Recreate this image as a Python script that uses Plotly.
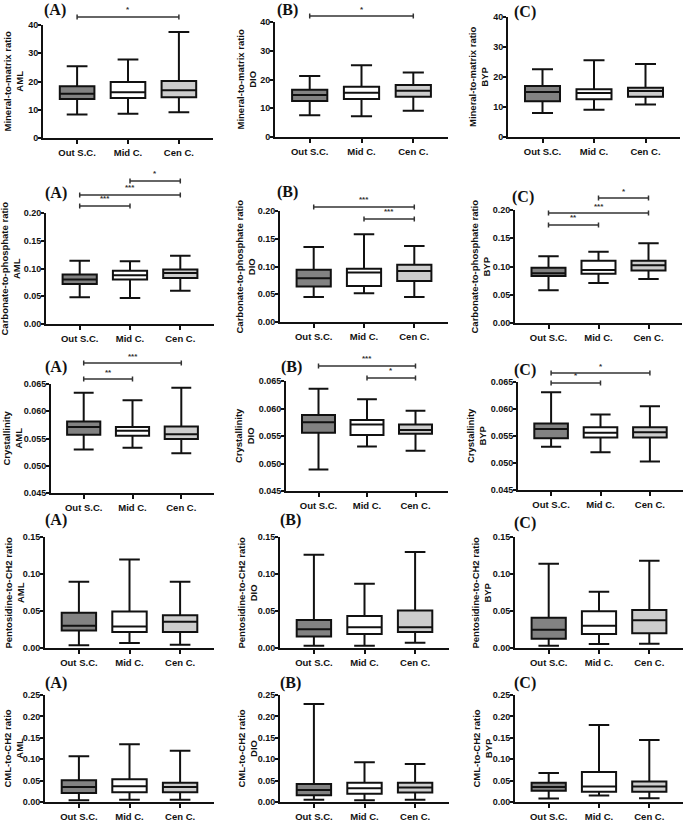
import plotly.graph_objects as go

# ---------------- data ----------------
categories = ["Out S.C.", "Mid C.", "Cen C."]
sites = ["AML", "DIO", "BYP"]
panel_letters = ["(A)", "(B)", "(C)"]
measures = ["Mineral-to-matrix ratio", "Carbonate-to-phosphate ratio",
            "Crystallinity", "Pentosidine-to-CH2 ratio", "CML-to-CH2 ratio"]

# each entry: [lower whisker, Q1, median, Q3, upper whisker] for Out S.C., Mid C., Cen C.
mineral_aml = [[8.3, 13.8, 15.7, 18.3, 25.4], [8.6, 14.2, 16.2, 19.8, 27.8], [9.1, 14.4, 16.9, 20.2, 37.5]]
mineral_dio = [[7.6, 12.5, 14.6, 16.4, 21.2], [7.2, 13.2, 15.4, 17.5, 25.0], [9.1, 14.0, 16.1, 18.1, 22.4]]
mineral_byp = [[8.0, 11.9, 15.0, 17.0, 22.6], [9.1, 12.6, 14.7, 15.9, 25.6], [10.8, 13.4, 15.3, 16.4, 24.3]]

carbonate_aml = [[0.048, 0.072, 0.080, 0.089, 0.114], [0.047, 0.080, 0.088, 0.096, 0.113], [0.060, 0.083, 0.092, 0.098, 0.123]]
carbonate_dio = [[0.045, 0.064, 0.079, 0.094, 0.135], [0.052, 0.065, 0.089, 0.096, 0.158], [0.045, 0.074, 0.092, 0.103, 0.137]]
carbonate_byp = [[0.058, 0.083, 0.088, 0.098, 0.118], [0.071, 0.087, 0.094, 0.110, 0.126], [0.078, 0.093, 0.102, 0.110, 0.141]]

crystal_aml = [[0.0530, 0.0557, 0.0571, 0.0581, 0.0634], [0.0533, 0.0555, 0.0564, 0.0571, 0.0620], [0.0523, 0.0549, 0.0558, 0.0572, 0.0643]]
crystal_dio = [[0.0489, 0.0556, 0.0575, 0.0588, 0.0636], [0.0531, 0.0552, 0.0571, 0.0579, 0.0617], [0.0523, 0.0554, 0.0561, 0.0571, 0.0596]]
crystal_byp = [[0.0530, 0.0546, 0.0563, 0.0573, 0.0631], [0.0520, 0.0547, 0.0556, 0.0566, 0.0590], [0.0503, 0.0547, 0.0557, 0.0566, 0.0605]]

pentos_aml = [[0.0036, 0.0237, 0.030, 0.0475, 0.0896], [0.0067, 0.0215, 0.029, 0.0493, 0.1196], [0.0045, 0.0215, 0.0354, 0.0443, 0.0896]]
pentos_dio = [[0.003, 0.0157, 0.0255, 0.038, 0.126], [0.003, 0.0188, 0.028, 0.0434, 0.0869], [0.0072, 0.0215, 0.028, 0.0506, 0.1298]]
pentos_byp = [[0.003, 0.0125, 0.0246, 0.041, 0.114], [0.0054, 0.0188, 0.030, 0.0497, 0.076], [0.0058, 0.020, 0.0376, 0.0515, 0.118]]

cml_aml = [[0.004, 0.021, 0.035, 0.051, 0.107], [0.005, 0.023, 0.037, 0.053, 0.135], [0.005, 0.023, 0.035, 0.045, 0.120]]
cml_dio = [[0.005, 0.016, 0.028, 0.042, 0.229], [0.004, 0.019, 0.032, 0.045, 0.093], [0.005, 0.022, 0.034, 0.045, 0.089]]
cml_byp = [[0.008, 0.026, 0.035, 0.045, 0.068], [0.015, 0.024, 0.036, 0.070, 0.180], [0.009, 0.024, 0.036, 0.048, 0.145]]

panel_data = [
    [mineral_aml, mineral_dio, mineral_byp],
    [carbonate_aml, carbonate_dio, carbonate_byp],
    [crystal_aml, crystal_dio, crystal_byp],
    [pentos_aml, pentos_dio, pentos_byp],
    [cml_aml, cml_dio, cml_byp],
]

# y-axis ticks per row
row_tickvals = [
    [0, 10, 20, 30, 40],
    [0.00, 0.05, 0.10, 0.15, 0.20],
    [0.045, 0.050, 0.055, 0.060, 0.065],
    [0.00, 0.05, 0.10, 0.15],
    [0.00, 0.05, 0.10, 0.15, 0.20, 0.25],
]
row_ticktext = [
    ["0", "10", "20", "30", "40"],
    ["0.00", "0.05", "0.10", "0.15", "0.20"],
    ["0.045", "0.050", "0.055", "0.060", "0.065"],
    ["0.00", "0.05", "0.10", "0.15"],
    ["0.00", "0.05", "0.10", "0.15", "0.20", "0.25"],
]

# significance comparisons per panel (row, col): (group i, group j, stars)
significance = {
    (0, 0): [(0, 2, "*")],
    (0, 1): [(0, 2, "*")],
    (1, 0): [(1, 2, "*"), (0, 2, "***"), (0, 1, "***")],
    (1, 1): [(0, 2, "***"), (1, 2, "***")],
    (1, 2): [(1, 2, "*"), (0, 2, "***"), (0, 1, "**")],
    (2, 0): [(0, 2, "***"), (0, 1, "**")],
    (2, 1): [(0, 2, "***"), (1, 2, "*")],
    (2, 2): [(0, 2, "*"), (0, 1, "*")],
}

# ---------------- layout / style ----------------
W, H = 685, 823
fill_colors = ["#828282", "#ffffff", "#cdcdcd"]
LINE = "#111111"
SANS = "Liberation Sans, Arial, sans-serif"
SERIF = "Liberation Serif, Times New Roman, serif"

# plot-area pixel boxes (x0, x1, ytop, ybottom)
panel_px = [
    [(43, 213, 25, 138), (275, 448, 22, 137), (508, 680, 17, 137)],
    [(46, 214, 213, 324), (280, 448, 211, 322), (515, 682, 210, 323)],
    [(51, 214, 384, 493), (286, 448, 381, 491), (518, 683, 382, 490)],
    [(45, 214, 537, 648), (280, 449, 537, 648), (515, 683, 537, 648)],
    [(45, 214, 695, 802), (280, 449, 695, 802), (515, 683, 695, 802)],
]
# y-title block centre x (px)
ytitle_px = [
    [13, 246, 479],
    [10, 245, 480],
    [12, 245, 477],
    [14, 247, 481],
    [13, 247, 482],
]
# panel label positions (left x, center y) in px
label_px = [
    [(42, 10), (275, 10), (512, 12)],
    [(43, 193), (275, 192), (510, 197)],
    [(43, 367), (279, 367), (512, 370)],
    [(43, 520), (278, 520), (512, 523)],
    [(43, 683), (278, 683), (512, 683)],
]
# bracket heights (px) matching significance order
bracket_px = {
    (0, 0): [17], (0, 1): [16],
    (1, 0): [181, 195, 206], (1, 1): [207, 219], (1, 2): [198, 213, 225],
    (2, 0): [363, 379], (2, 1): [366, 378], (2, 2): [373, 383],
}


def xp(px):
    return px / W


def yp(py):
    return 1 - py / H


fig = go.Figure()
layout = dict(
    width=W, height=H, margin=dict(l=0, r=0, t=0, b=0, autoexpand=False),
    paper_bgcolor="white", plot_bgcolor="white", showlegend=False,
    boxmode="overlay",
)
shapes = []
annotations = []

for r in range(5):
    for c in range(3):
        n = r * 3 + c + 1
        xa = "x" if n == 1 else f"x{n}"
        ya = "y" if n == 1 else f"y{n}"
        x0, x1, yt, yb = panel_px[r][c]
        stats = panel_data[r][c]
        for g in range(3):
            lo, q1, med, q3, hi = stats[g]
            fig.add_trace(go.Box(
                x=[categories[g]], q1=[q1], median=[med], q3=[q3],
                lowerfence=[lo], upperfence=[hi],
                xaxis=xa, yaxis=ya, width=0.68, whiskerwidth=0.6,
                fillcolor=fill_colors[g], line=dict(color=LINE, width=2),
                boxpoints=False, hoverinfo="skip", showlegend=False,
            ))
        tv = row_tickvals[r]
        layout["xaxis" if n == 1 else f"xaxis{n}"] = dict(
            domain=[xp(x0), xp(x1)], anchor=ya, type="category",
            categoryorder="array", categoryarray=categories, automargin=False,
            range=[-0.67, 2.67], showline=True, linecolor=LINE, linewidth=2,
            ticks="outside", ticklen=4, tickwidth=2, tickcolor=LINE,
            showgrid=False, zeroline=False, ticklabelstandoff=1,
            tickfont=dict(family=SANS, size=9.5, color="#111", weight="bold"),
        )
        layout["yaxis" if n == 1 else f"yaxis{n}"] = dict(
            domain=[yp(yb), yp(yt)], anchor=xa, range=[tv[0], tv[-1]],
            tickvals=tv, ticktext=row_ticktext[r], automargin=False,
            showline=True, linecolor=LINE, linewidth=2,
            ticks="outside", ticklen=3, tickwidth=2, tickcolor=LINE,
            showgrid=False, zeroline=False, ticklabelstandoff=-2,
            tickfont=dict(family=SANS, size=9, color="#111", weight="bold"),
        )
        # y-axis title (two lines, rotated)
        annotations.append(dict(
            text=f"{measures[r]}<br>{sites[c]}", textangle=-90,
            xref="paper", yref="paper", x=xp(ytitle_px[r][c]), y=yp((yt + yb) / 2),
            xanchor="center", yanchor="middle", showarrow=False,
            font=dict(family=SANS, size=9.5, color="#111", weight="bold"),
        ))
        lx, ly = label_px[r][c]
        annotations.append(dict(
            text=panel_letters[c], xref="paper", yref="paper",
            x=xp(lx), y=yp(ly), xanchor="left", yanchor="middle",
            showarrow=False,
            font=dict(family=SERIF, size=16, color="#111", weight="bold"),
        ))
        for (i, j, stars), by in zip(significance.get((r, c), []), bracket_px.get((r, c), [])):
            shapes.append(dict(type="line", xref=xa, yref="paper", x0=i, x1=j,
                               y0=yp(by), y1=yp(by), line=dict(color="#333", width=1.5)))
            for e in (i, j):
                shapes.append(dict(type="line", xref=xa, yref="paper", x0=e, x1=e,
                                   y0=yp(by - 2.5), y1=yp(by + 2.5),
                                   line=dict(color="#333", width=1.5)))
            annotations.append(dict(
                text=stars, xref=xa, yref="paper", x=(i + j) / 2, y=yp(by - 0.5),
                xanchor="center", yanchor="bottom", showarrow=False,
                font=dict(family=SANS, size=8, color="#333", weight="bold"),
            ))

layout["shapes"] = shapes
layout["annotations"] = annotations
fig.update_layout(**layout)
fig.write_html(
    "out.html",
    config={"displayModeBar": False},
    post_script="document.body.style.margin='0';document.body.style.overflow='hidden';",
)
